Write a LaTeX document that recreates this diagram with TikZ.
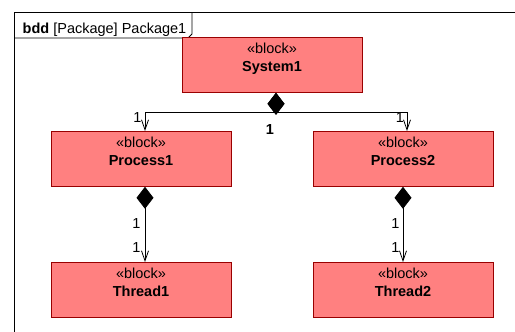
\documentclass[tikz,border=0pt]{standalone}
\usepackage{fontspec}
\setmainfont{Liberation Sans}
\usetikzlibrary{arrows.meta}

\definecolor{blockfill}{RGB}{255,128,128}
\definecolor{blockline}{RGB}{153,0,0}

\begin{document}
\begin{tikzpicture}[x=1pt,y=-1pt,
  block/.style={draw=blockline,fill=blockfill,line width=0.8pt,
    text width=180pt,align=center,inner xsep=0pt,inner ysep=0pt,
    text height=16pt,text depth=39pt,anchor=north,
    font=\fontsize{14.5pt}{18pt}\selectfont},
  part/.style={draw=black,line width=0.8pt,
    {Diamond[length=22pt,width=17pt]}-{Straight Barb[length=10pt,width=7pt]}},
  mult/.style={inner sep=0pt,font=\fontsize{14.5pt}{16pt}\selectfont}]
  \useasboundingbox (0,0) rectangle (515,332);

  % frame and its tab
  \draw[line width=0.8pt] (515,12) -- (14,12) -- (14,332);
  \draw[line width=0.8pt] (14,38) -- (188,38) -- (192,34) -- (192,12);
  \node[anchor=base west,inner sep=0pt,font=\fontsize{14.5pt}{16pt}\selectfont] (title) at (22.5,33) {\textbf{bdd} [Package] Package1};

  \node[block] (system1)  at (272,37)  {«block»\\\textbf{System1}};
  \node[block] (process1) at (141,131) {«block»\\\textbf{Process1}};
  \node[block] (process2) at (403,131) {«block»\\\textbf{Process2}};
  \node[block] (thread1)  at (141,262) {«block»\\\textbf{Thread1}};
  \node[block] (thread2)  at (403,262) {«block»\\\textbf{Thread2}};

  \draw[part] ([xshift=4pt]system1.south) -- ++(0,20) -| ([xshift=4pt]process1.north);
  \draw[part] ([xshift=4pt]system1.south) -- ++(0,20) -| ([xshift=4pt]process2.north);
  \draw[part] ([xshift=4pt]process1.south) -- ([xshift=4pt]thread1.north);
  \draw[part] (process2.south) -- (thread2.north);

  % multiplicities
  \node[mult] (msys) at (270,130) {\textbf{1}};
  \node[mult] (mp1)  at (137.5,118) {1};
  \node[mult] (mp2)  at (400,118) {1};
  \node[mult] (mp1a) at (136.5,223.5) {1};
  \node[mult] (mt1)  at (136.5,248) {1};
  \node[mult] (mp2a) at (395.5,223.5) {1};
  \node[mult] (mt2)  at (395.5,248) {1};
\end{tikzpicture}
\end{document}
